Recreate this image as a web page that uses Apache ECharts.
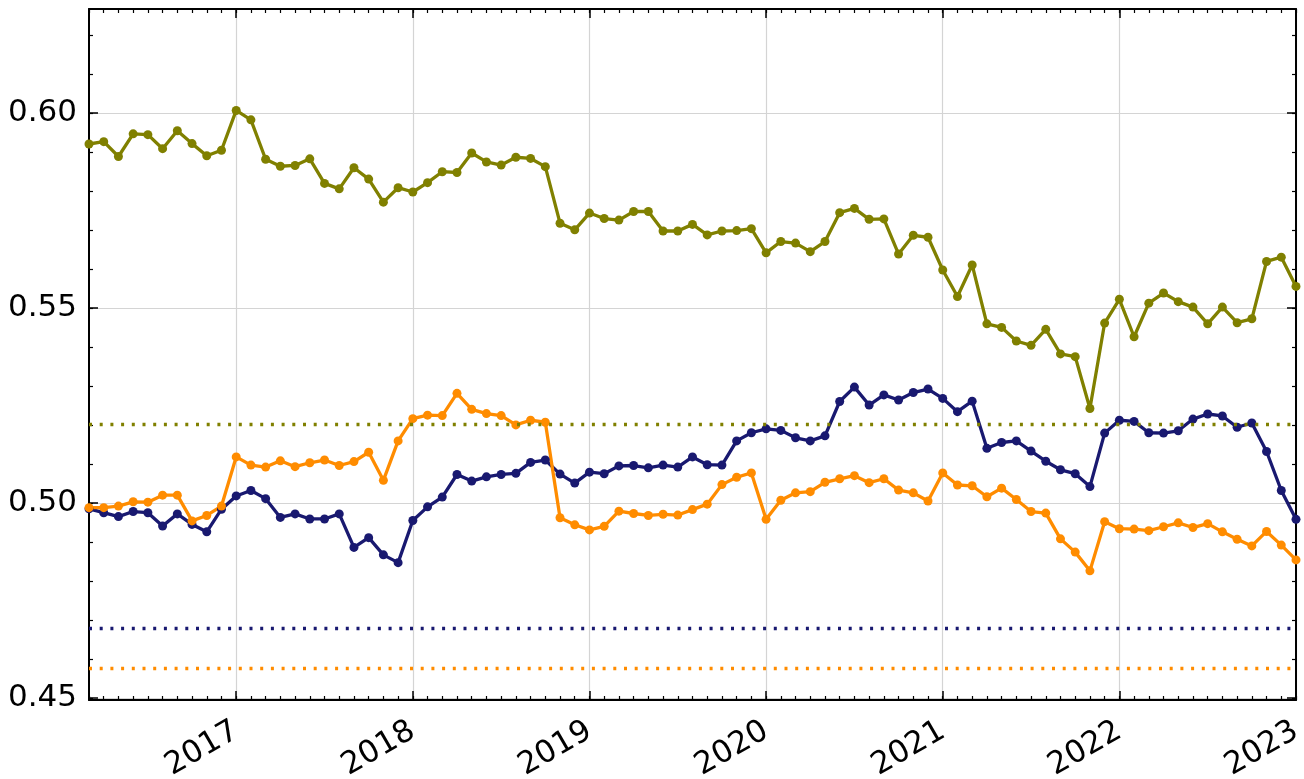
<!DOCTYPE html>
<html>
<head>
<meta charset="utf-8">
<script src="https://cdn.jsdelivr.net/npm/echarts@6/dist/echarts.min.js"></script>
<style>
  html, body { margin: 0; padding: 0; background: #fff; }
  #chart { width: 1304px; height: 779px; }
</style>
</head>
<body>
<div id="chart"></div>
<script>
// Monthly observations, March 2016 .. January 2023
const firstMonth = '2016-03';
const monthCount = 83;

const oliveValues = [
  0.5920,0.5926,0.5888,0.5946,0.5944,0.5908,0.5954,0.5921,0.5890,0.5904,
  0.6006,0.5982,0.5881,0.5863,0.5865,0.5882,0.5819,0.5805,0.5859,0.5830,
  0.5771,0.5808,0.5797,0.5821,0.5849,0.5847,0.5897,0.5874,0.5866,0.5886,
  0.5883,0.5862,0.5717,0.5700,0.5743,0.5729,0.5725,0.5747,0.5747,0.5697,
  0.5697,0.5714,0.5687,0.5697,0.5698,0.5703,0.5641,0.5670,0.5666,0.5644,
  0.5670,0.5744,0.5755,0.5727,0.5728,0.5638,0.5686,0.5681,0.5597,0.5529,
  0.5610,0.5459,0.5450,0.5415,0.5404,0.5445,0.5382,0.5375,0.5242,0.5461,
  0.5522,0.5426,0.5512,0.5538,0.5516,0.5502,0.5459,0.5502,0.5462,0.5472,
  0.5619,0.5630,0.5555
];
const navyValues = [
  0.4985,0.4975,0.4965,0.4978,0.4975,0.4941,0.4972,0.4945,0.4926,0.4984,
  0.5018,0.5032,0.5011,0.4963,0.4972,0.4959,0.4959,0.4972,0.4886,0.4911,
  0.4867,0.4847,0.4955,0.4990,0.5015,0.5073,0.5056,0.5067,0.5073,0.5076,
  0.5104,0.5110,0.5074,0.5051,0.5079,0.5075,0.5095,0.5096,0.5090,0.5097,
  0.5092,0.5118,0.5098,0.5097,0.5159,0.5180,0.5190,0.5186,0.5167,0.5159,
  0.5172,0.5260,0.5297,0.5251,0.5277,0.5264,0.5283,0.5292,0.5268,0.5234,
  0.5261,0.5140,0.5155,0.5159,0.5133,0.5107,0.5085,0.5075,0.5042,0.5179,
  0.5212,0.5209,0.5180,0.5179,0.5185,0.5215,0.5228,0.5223,0.5194,0.5205,
  0.5132,0.5032,0.4958
];
const orangeValues = [
  0.4988,0.4988,0.4992,0.5003,0.5002,0.5020,0.5020,0.4954,0.4968,0.4992,
  0.5118,0.5097,0.5092,0.5108,0.5093,0.5103,0.5110,0.5096,0.5106,0.5130,
  0.5058,0.5159,0.5216,0.5225,0.5224,0.5281,0.5240,0.5229,0.5224,0.5200,
  0.5212,0.5207,0.4962,0.4944,0.4931,0.4940,0.4979,0.4973,0.4968,0.4971,
  0.4969,0.4983,0.4997,0.5047,0.5066,0.5077,0.4958,0.5007,0.5026,0.5029,
  0.5053,0.5062,0.5070,0.5052,0.5062,0.5033,0.5026,0.5005,0.5077,0.5046,
  0.5044,0.5016,0.5038,0.5009,0.4978,0.4974,0.4908,0.4874,0.4826,0.4952,
  0.4934,0.4933,0.4929,0.4939,0.4949,0.4937,0.4947,0.4926,0.4907,0.4890,
  0.4927,0.4892,0.4854
];
// Horizontal dotted reference levels
const oliveLevel = 0.5203;
const navyLevel = 0.4679;
const orangeLevel = 0.4577;

const yearTickLabels = ['2017','2018','2019','2020','2021','2022','2023'];
const yMajorTicks = [0.45, 0.50, 0.55, 0.60];
const yMinorTicks = [0.45,0.46,0.47,0.48,0.49,0.50,0.51,0.52,0.53,0.54,0.55,0.56,0.57,0.58,0.59,0.60,0.61,0.62];
const yMin = 0.4495, yMax = 0.6266;

// month index counted from January 2016
function monthIndex(ym) {
  const [y, m] = ym.split('-').map(Number);
  return (y - 2016) * 12 + (m - 1);
}
const startIdx = monthIndex(firstMonth);
const monthTicks = [];
for (let k = 0; k < monthCount; k++) monthTicks.push(startIdx + k);
const xMin = monthTicks[0], xMax = monthTicks[monthTicks.length - 1];
const yearTicks = yearTickLabels.map(y => monthIndex(y + '-01'));

const toPairs = vals => vals.map((v, k) => [monthTicks[k], v]);

const FONT = 'DejaVu Sans';
const BLACK = '#000';

function xAxisDef(position, major) {
  return {
    type: 'value', position: position, min: xMin, max: xMax, gridIndex: 0,
    axisLine: { show: !major, onZero: false, lineStyle: { color: BLACK, width: 2 } },
    axisTick: {
      show: true, inside: true, length: major ? 9 : 4,
      customValues: major ? yearTicks : monthTicks,
      lineStyle: { color: BLACK, width: major ? 1.5 : 1.2 }
    },
    axisLabel: (major && position === 'bottom') ? {
      show: true, customValues: yearTicks, rotate: 30, margin: 29,
      fontFamily: FONT, fontSize: 31, color: BLACK,
      formatter: v => String(2016 + Math.round(v) / 12)
    } : { show: false },
    splitLine: (major && position === 'bottom') ? { show: true, lineStyle: { color: '#d4d4d4', width: 1.2 } } : { show: false }
  };
}
function yAxisDef(position, major) {
  return {
    type: 'value', position: position, min: yMin, max: yMax, gridIndex: 0,
    axisLine: { show: !major, onZero: false, lineStyle: { color: BLACK, width: 2 } },
    axisTick: {
      show: true, inside: true, length: major ? 9 : 4,
      customValues: major ? yMajorTicks : yMinorTicks,
      lineStyle: { color: BLACK, width: major ? 1.5 : 1.2 }
    },
    axisLabel: (major && position === 'left') ? {
      show: true, customValues: yMajorTicks, margin: 12,
      fontFamily: FONT, fontSize: 31, color: BLACK,
      formatter: v => v.toFixed(2)
    } : { show: false },
    splitLine: (major && position === 'left') ? { show: true, lineStyle: { color: '#d4d4d4', width: 1.2 } } : { show: false }
  };
}

function lineSeries(name, vals, color, level) {
  return {
    name: name, type: 'line', xAxisIndex: 0, yAxisIndex: 0,
    data: toPairs(vals),
    symbol: 'circle', symbolSize: 9,
    lineStyle: { color: color, width: 3.3 },
    itemStyle: { color: color },
    animation: false,
    markLine: {
      silent: true, symbol: 'none', animation: false, precision: 5,
      label: { show: false },
      lineStyle: { color: color, width: 3.3, type: [3, 7.7] },
      data: [{ yAxis: level }]
    }
  };
}

const chart = echarts.init(document.getElementById('chart'), null, { renderer: 'canvas' });
chart.setOption({
  backgroundColor: '#fff',
  animation: false,
  grid: { left: 89, right: 8, top: 9, bottom: 79, containLabel: false, outerBoundsMode: 'none' },
  xAxis: [
    xAxisDef('bottom', false),
    xAxisDef('bottom', true),
    xAxisDef('top', false),
    xAxisDef('top', true)
  ],
  yAxis: [
    yAxisDef('left', false),
    yAxisDef('left', true),
    yAxisDef('right', false),
    yAxisDef('right', true)
  ],
  series: [
    lineSeries('olive', oliveValues, '#808000', oliveLevel),
    lineSeries('navy', navyValues, '#191970', navyLevel),
    lineSeries('orange', orangeValues, '#ff8c00', orangeLevel)
  ]
});
</script>
</body>
</html>
